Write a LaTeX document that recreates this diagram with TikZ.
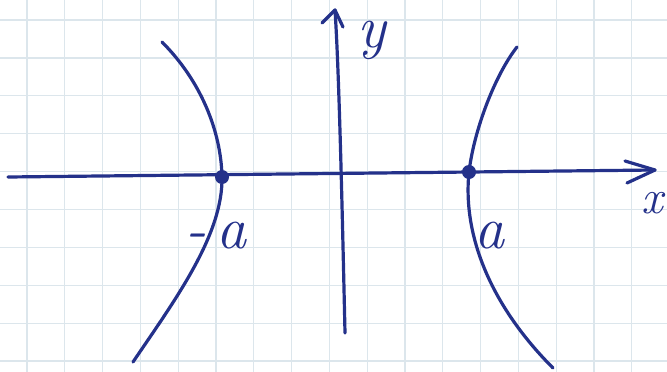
\documentclass[tikz,border=0pt]{standalone}
\usepackage{fontspec}
\begin{document}
\begin{tikzpicture}[x=1pt,y=-1pt,
  ink/.style={draw=inkblue,line width=3.2pt,line cap=round,line join=round},
  gridline/.style={draw=gridblue,line width=1.3pt},
  lbl/.style={text=inkblue,font=\fontsize{60}{60}\selectfont\itshape,inner sep=0pt},
  vdot/.style={circle,fill=inkblue,minimum size=14pt,inner sep=0pt}]
\definecolor{inkblue}{HTML}{24318A}
\definecolor{gridblue}{HTML}{DCE6EC}
\useasboundingbox (0,0) rectangle (667,372);
\fill[white] (0,0) rectangle (667,372);
% grid paper
\foreach \i in {0,...,17} \draw[gridline] (27+37.8*\i,0) -- (27+37.8*\i,372);
\foreach \j in {0,...,9} \draw[gridline] (0,20+37.9*\j) -- (667,20+37.9*\j);
% axes
\coordinate (xs) at (8,177);
\coordinate (xt) at (655,170);
\coordinate (xa1) at (625,161);
\coordinate (xa2) at (627,183);
\coordinate (ys) at (345,333);
\coordinate (yt) at (335,10);
\coordinate (ya1) at (322,23);
\coordinate (ya2) at (343,27);
\draw[ink] (xs) -- (xt);
\draw[ink] (xa1) -- (xt) -- (xa2);
\draw[ink] (ys) .. controls (342,200) and (339,70) .. (yt);
\draw[ink] (ya1) -- (yt) -- (ya2);
% vertices
\coordinate (vlc) at (222,177);
\coordinate (vrc) at (469,172);
\coordinate (lt) at (162,42);
\coordinate (lb) at (133,362);
\coordinate (rt) at (517,47);
\coordinate (rb) at (553,368);
% hyperbola branches
\draw[ink] (lt) .. controls (200,80) and (221,130) .. (vlc)
                .. controls (223,235) and (175,300) .. (lb);
\draw[ink] (rt) .. controls (495,75) and (474,130) .. (vrc)
                .. controls (462,240) and (495,310) .. (rb);
\node[vdot] (vl) at (vlc) {};
\node[vdot] (vr) at (vrc) {};
% labels
\node[lbl,font=\fontsize{48}{48}\selectfont\itshape] (lx) at (652,203) {x};
\node[lbl] (ly) at (372,40) {y};
\node[lbl] (lma) at (216,236) {-\,a};
\node[lbl] (la) at (489,236) {a};
\end{tikzpicture}
\end{document}
